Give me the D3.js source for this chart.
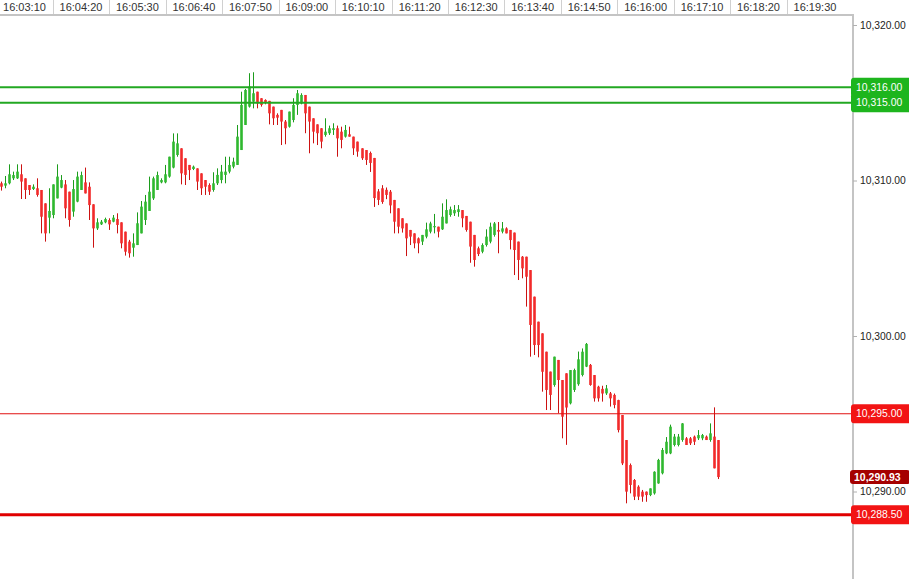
<!DOCTYPE html>
<html><head><meta charset="utf-8">
<script src="https://cdn.jsdelivr.net/npm/d3@7"></script>
<style>body{margin:0;background:#fff;overflow:hidden}svg{display:block;font-family:"Liberation Sans",Arial,sans-serif}</style>
</head><body><svg id="c" width="909" height="579"></svg>
<script>
// ---- data ----
const opens = [10309.82,10309.67,10309.82,10310.14,10310.14,10310.40,10310.14,10309.71,10309.45,10309.50,10309.39,10308.53,10307.61,10307.78,10308.85,10309.54,10309.75,10309.28,10308.00,10308.64,10309.39,10309.88,10309.60,10308.47,10306.92,10307.18,10307.31,10307.46,10307.35,10307.52,10307.31,10306.71,10306.07,10305.68,10305.85,10306.60,10307.46,10308.04,10308.85,10309.39,10309.88,10309.88,10310.25,10310.83,10311.64,10312.07,10311.43,10311.00,10310.74,10310.78,10310.46,10310.03,10309.71,10309.39,10309.82,10310.03,10310.36,10310.57,10310.89,10311.00,10311.96,10313.57,10314.75,10315.07,10315.71,10315.29,10315.18,10315.12,10314.75,10314.22,10314.54,10313.79,10313.46,10313.89,10314.86,10314.96,10315.50,10314.75,10314.00,10313.61,10313.36,10312.93,10313.04,10313.25,10313.36,10313.14,10312.82,10312.97,10312.82,10312.50,10312.07,10311.96,10311.77,10311.45,10309.30,10309.50,10309.40,10309.28,10308.75,10308.21,10307.57,10307.24,10306.82,10306.60,10306.28,10306.07,10306.39,10306.71,10306.99,10307.03,10306.86,10307.24,10307.78,10307.89,10307.97,10308.10,10307.72,10307.35,10306.50,10305.64,10305.42,10305.85,10306.07,10306.50,10306.82,10306.71,10306.92,10306.82,10306.65,10306.07,10305.10,10305.10,10304.24,10302.53,10300.92,10300.17,10298.99,10297.71,10296.85,10298.46,10297.17,10297.60,10295.67,10296.53,10296.90,10297.49,10298.03,10298.14,10297.49,10296.74,10296.60,10296.31,10296.31,10296.21,10295.88,10294.92,10293.31,10291.70,10290.74,10290.31,10289.99,10289.99,10289.77,10289.88,10290.52,10291.17,10292.45,10292.45,10292.99,10292.99,10293.31,10293.42,10293.42,10293.53,10293.42,10293.42,10293.53,10293.31,10293.53,10293.31];
const highs = [10309.93,10310.29,10311.04,10310.57,10311.04,10311.04,10310.14,10309.71,10309.75,10310.14,10309.39,10308.53,10309.50,10309.75,10311.04,10310.35,10310.03,10309.28,10310.03,10310.57,10310.57,10310.83,10309.88,10308.47,10307.57,10307.46,10307.61,10307.57,10307.78,10307.89,10307.31,10306.71,10306.18,10306.60,10307.95,10308.68,10309.07,10310.25,10310.25,10310.57,10310.14,10311.00,10311.53,10313.03,10313.03,10312.07,10311.43,10311.00,10310.96,10310.78,10310.46,10310.03,10309.82,10310.53,10310.78,10311.00,10311.53,10311.53,10311.47,10313.57,10315.71,10315.89,10316.90,10316.96,10315.71,10315.29,10315.22,10315.12,10314.75,10314.32,10314.54,10313.89,10314.43,10315.29,10315.82,10315.61,10315.50,10314.75,10314.00,10313.61,10313.36,10314.00,10313.53,10313.68,10313.53,10313.46,10313.57,10313.46,10312.82,10312.50,10312.07,10311.96,10311.86,10311.45,10309.45,10309.70,10309.55,10309.39,10308.75,10308.21,10307.57,10307.24,10306.82,10306.60,10306.34,10306.50,10307.29,10307.35,10307.85,10307.03,10308.53,10308.79,10308.32,10308.42,10308.42,10308.10,10307.72,10307.35,10306.50,10305.75,10305.96,10306.86,10307.29,10307.33,10307.33,10307.33,10306.99,10306.82,10306.65,10306.07,10305.14,10305.10,10304.24,10302.53,10300.92,10300.17,10298.99,10297.71,10298.67,10298.46,10297.17,10297.60,10297.81,10297.90,10299.00,10299.20,10299.55,10298.20,10297.49,10296.80,10296.80,10296.85,10296.40,10296.30,10295.90,10294.92,10293.31,10291.80,10290.80,10290.40,10290.10,10290.00,10290.20,10291.30,10292.10,10292.80,10293.50,10294.30,10293.70,10293.70,10294.40,10293.50,10293.50,10293.60,10293.95,10293.70,10293.60,10294.38,10295.41,10293.31];
const lows = [10309.35,10309.50,10309.75,10310.03,10310.10,10308.81,10308.81,10309.07,10309.39,10308.96,10306.60,10306.07,10306.60,10307.57,10308.85,10309.50,10307.57,10307.03,10307.67,10308.60,10309.39,10309.17,10307.46,10305.68,10306.82,10307.14,10307.25,10306.82,10307.31,10306.60,10305.64,10305.17,10305.04,10305.10,10305.85,10306.60,10307.14,10308.04,10308.75,10309.39,10309.82,10309.82,10310.18,10310.78,10311.53,10309.75,10309.71,10310.03,10310.67,10309.39,10309.07,10309.07,10309.07,10309.28,10309.71,10309.82,10309.82,10310.46,10310.78,10311.00,10311.96,10313.57,10314.69,10314.64,10314.64,10314.75,10314.90,10313.61,10313.57,10313.57,10312.28,10312.33,10313.40,10313.74,10314.22,10314.90,10313.04,10311.75,10312.39,10312.28,10312.07,10312.82,10312.93,10312.93,10311.53,10312.07,10312.76,10312.82,10311.64,10311.53,10311.32,10311.00,10310.55,10308.30,10308.42,10308.50,10308.80,10307.89,10306.60,10306.60,10306.65,10305.14,10305.85,10305.64,10305.32,10305.85,10306.28,10306.60,10306.60,10306.34,10306.82,10307.24,10307.67,10307.72,10307.67,10306.99,10306.71,10304.71,10304.46,10305.14,10305.32,10305.75,10305.96,10306.39,10305.32,10306.60,10306.60,10305.57,10303.92,10303.60,10303.71,10301.89,10298.67,10298.78,10298.63,10296.42,10295.24,10295.24,10296.74,10295.03,10293.42,10293.00,10295.60,10296.40,10296.80,10297.40,10298.00,10296.80,10295.78,10295.78,10295.78,10296.21,10295.46,10295.35,10293.80,10291.70,10289.24,10289.88,10289.45,10289.45,10289.34,10289.34,10289.70,10289.80,10290.50,10291.10,10292.40,10292.40,10292.90,10292.90,10293.20,10292.99,10292.99,10292.99,10293.31,10293.30,10293.31,10293.20,10291.49,10290.80];
const closes = [10309.60,10309.82,10310.40,10310.35,10310.57,10309.93,10309.39,10309.39,10309.60,10309.07,10307.67,10306.60,10308.04,10309.75,10310.25,10310.03,10308.21,10307.46,10309.45,10310.25,10310.35,10309.17,10308.42,10306.92,10307.31,10307.35,10307.52,10307.18,10307.61,10307.14,10305.96,10305.42,10305.32,10305.96,10307.25,10308.32,10308.64,10309.28,10310.14,10310.35,10310.03,10310.40,10311.53,10312.50,10312.39,10310.46,10310.36,10310.67,10310.89,10309.93,10309.50,10309.60,10309.28,10309.82,10310.36,10310.57,10310.57,10311.00,10311.21,10312.82,10314.86,10315.82,10316.04,10315.61,10314.96,10314.86,10315.03,10314.32,10314.00,10314.04,10313.79,10313.36,10314.43,10314.86,10315.61,10315.50,10314.32,10313.79,10313.14,10313.04,10312.50,10313.14,10313.36,10313.36,10312.71,10312.61,10313.25,10312.82,10312.07,10311.86,10311.43,10311.32,10311.13,10308.87,10308.75,10308.62,10309.07,10308.40,10307.35,10307.03,10306.92,10306.28,10306.39,10305.96,10305.96,10306.50,10306.86,10307.24,10307.07,10306.71,10307.67,10308.10,10308.15,10308.10,10308.15,10307.57,10306.82,10305.75,10304.89,10305.27,10305.85,10306.39,10307.03,10307.24,10306.71,10306.92,10306.60,10306.17,10305.53,10304.89,10304.35,10303.81,10300.71,10299.42,10299.42,10297.70,10296.53,10296.21,10298.67,10297.17,10294.81,10295.40,10297.81,10297.81,10298.50,10298.99,10299.49,10296.85,10295.99,10295.99,10296.30,10296.63,10295.99,10295.56,10293.95,10291.81,10289.99,10290.42,10289.67,10289.67,10289.67,10289.77,10290.20,10291.27,10292.03,10292.67,10293.20,10294.17,10293.53,10293.53,10294.38,10292.99,10293.10,10293.20,10293.63,10293.63,10293.31,10293.74,10291.49,10290.93];
const timeLabels = ["16:03:10","16:04:20","16:05:30","16:06:40","16:07:50","16:09:00","16:10:10","16:11:20","16:12:30","16:13:40","16:14:50","16:16:00","16:17:10","16:18:20","16:19:30"];
const priceTicks = [10320, 10310, 10300, 10290];
const levelValues = [10316.00, 10315.00, 10295.00, 10288.50];
const lastPrice = 10290.93;

// ---- styles / layout ----
const W = 909, H = 579, axisX = 853, axisTop = 15;
const levelStyle = [
  {line:"#22a822", w:2, tag:"#1db51d"},
  {line:"#22a822", w:2, tag:"#1db51d"},
  {line:"#e01010", w:1, tag:"#f21414"},
  {line:"#e00000", w:3, tag:"#f21414"}
];
const UP_BODY="#2fb82f", UP_WICK="#1c9c1c", DN_BODY="#f22a2a", DN_WICK="#cc1212";

const svg = d3.select("#c");
const parseT = d3.timeParse("%H:%M:%S");
const fmtP = d3.format(",.2f");

const x = d3.scaleLinear().domain([0, opens.length - 1]).range([1, 718]);
const xt = d3.scaleTime().domain([parseT(timeLabels[0]), parseT(timeLabels[timeLabels.length-1])]).range([24.5, 815]);
const y = d3.scaleLinear().domain([10320, 10290]).range([25, 491.5]);

svg.append("rect").attr("width", W).attr("height", H).attr("fill", "#fff");

// candles
const idx = d3.range(opens.length);
const cg = svg.append("g");
cg.selectAll("line.w").data(idx).join("line")
  .attr("x1", i => Math.round(x(i)) + 0.5).attr("x2", i => Math.round(x(i)) + 0.5)
  .attr("y1", i => y(highs[i])).attr("y2", i => y(lows[i]))
  .attr("stroke", i => closes[i] >= opens[i] ? UP_WICK : DN_WICK).attr("stroke-width", 1);
cg.selectAll("rect.b").data(idx).join("rect")
  .attr("x", i => Math.round(x(i)) + 0.5 - 1.3).attr("width", 2.6)
  .attr("y", i => y(Math.max(opens[i], closes[i])))
  .attr("height", i => Math.max(1.2, Math.abs(y(opens[i]) - y(closes[i]))))
  .attr("fill", i => closes[i] >= opens[i] ? UP_BODY : DN_BODY);

// level lines
svg.append("g").selectAll("line").data(levelValues).join("line")
  .attr("x1", 0).attr("x2", axisX - 1)
  .attr("y1", d => y(d)).attr("y2", d => y(d))
  .attr("stroke", (d, i) => levelStyle[i].line).attr("stroke-width", (d, i) => levelStyle[i].w);

// top time axis
const tg = svg.append("g");
const step = xt(parseT(timeLabels[1])) - xt(parseT(timeLabels[0]));
tg.selectAll("line.sep").data(timeLabels.slice(0, -1)).join("line")
  .attr("x1", d => Math.round(xt(parseT(d)) + step / 2) + 0.5)
  .attr("x2", d => Math.round(xt(parseT(d)) + step / 2) + 0.5)
  .attr("y1", 0).attr("y2", 14).attr("stroke", "#d0d0d0");
tg.selectAll("text").data(timeLabels).join("text")
  .attr("x", d => xt(parseT(d))).attr("y", 11)
  .attr("text-anchor", "middle").attr("font-size", "11px").attr("fill", "#333")
  .text(d => d);
svg.append("rect").attr("x", 0).attr("y", 14).attr("width", axisX + 1).attr("height", 2).attr("fill", "#c4c4c4");

// right price axis
svg.append("rect").attr("x", axisX - 1).attr("y", axisTop).attr("width", 2).attr("height", H - axisTop).attr("fill", "#c4c4c4");
const ya = svg.append("g").attr("transform", `translate(${axisX},0)`)
  .call(d3.axisRight(y).tickValues(priceTicks).tickFormat(fmtP).tickSize(4).tickPadding(3));
ya.select(".domain").remove();
ya.selectAll(".tick line").attr("stroke", "#b0b0b0");
ya.selectAll(".tick text").attr("fill", "#222").attr("font-size", "10.3px")
  .attr("font-family", '"Liberation Sans",Arial,sans-serif');

// level tags
const tagG = svg.append("g").selectAll("g").data(levelValues).join("g")
  .attr("transform", d => `translate(851,${y(d)})`);
tagG.append("rect").attr("x", 0).attr("y", -9.5).attr("width", 62).attr("height", 19).attr("rx", 3)
  .attr("fill", (d, i) => levelStyle[i].tag);
tagG.append("text").attr("x", 5).attr("y", 0).attr("dy", "0.35em")
  .attr("font-size", "10.4px").attr("fill", "#fff").text(d => fmtP(d));

// last price tag
const lp = svg.append("g").attr("transform", `translate(850,${y(lastPrice)})`);
lp.append("rect").attr("x", 0).attr("y", -7).attr("width", 60).attr("height", 14).attr("rx", 3).attr("fill", "#a50000");
lp.append("text").attr("x", 4).attr("y", 0).attr("dy", "0.36em").attr("font-size", "10.5px")
  .attr("font-weight", "bold").attr("fill", "#fff").text(fmtP(lastPrice));
</script></body></html>
